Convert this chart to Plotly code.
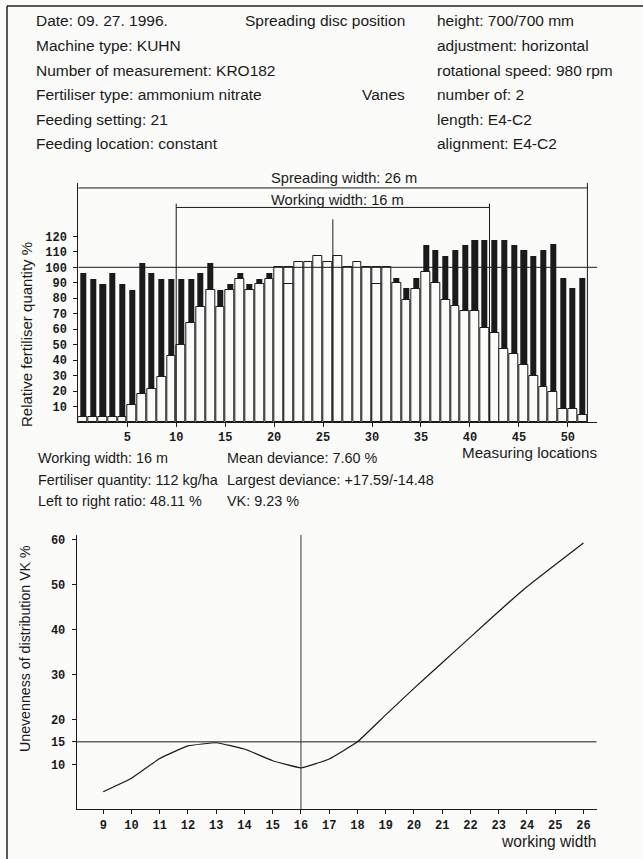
import plotly.graph_objects as go

W, H = 643, 859

# ---------------- data ----------------
locations = [1, 2, 3, 4, 5, 6, 7, 8, 9, 10, 11, 12, 13, 14, 15, 16, 17, 18, 19, 20,
             21, 22, 23, 24, 25, 26, 27, 28, 29, 30, 31, 32, 33, 34, 35, 36, 37, 38, 39, 40,
             41, 42, 43, 44, 45, 46, 47, 48, 49, 50, 51, 52]
total_pct = [96.1, 92.5, 89.2, 96.1, 89.0, 85.5, 103.0, 96.1, 92.7, 92.7,
             92.7, 92.7, 96.1, 103.0, 85.5, 89.2, 96.1, 89.2, 92.4, 96.1,
             100.0, 100.0, 103.2, 103.2, 107.3, 103.2, 107.3, 100.0, 103.2, 100.0,
             100.0, 100.0, 93.3, 86.4, 93.3, 114.4, 111.2, 107.5, 111.2, 114.4,
             117.6, 117.6, 117.6, 117.6, 114.4, 111.2, 107.5, 111.2, 114.8, 93.3,
             86.8, 93.3]
left_pct = [3.4, 3.4, 3.4, 3.4, 3.4, 10.8, 17.9, 21.3, 28.9, 42.9,
            50.0, 64.2, 74.6, 85.1, 74.6, 85.1, 92.5, 85.1, 89.2, 92.4,
            100.0, 89.2, 103.2, 103.2, 107.3, 103.2, 107.3, 100.0, 103.2, 100.0,
            89.2, 100.0, 89.6, 78.9, 85.8, 96.7, 89.6, 78.9, 75.2, 71.8,
            71.8, 61.0, 57.7, 47.0, 43.7, 36.8, 29.7, 22.4, 19.2, 8.4,
            8.4, 4.5]
hollow_locations = [22, 31]
bar_x_ticks = [5, 10, 15, 20, 25, 30, 35, 40, 45, 50]
bar_y_ticks = [10, 20, 30, 40, 50, 60, 70, 80, 90, 100, 110, 120]
reference_pct = 100
spreading_width_m = 26
working_width_m = 16
locations_per_m = 2

working_widths = [9, 10, 11, 12, 13, 14, 15, 16, 17, 18, 19, 20, 21, 22, 23, 24, 25, 26]
vk_pct = [3.9, 6.9, 11.3, 14.1, 14.8, 13.4, 10.8, 9.23, 11.2, 15.0,
          21.0, 26.9, 32.6, 38.3, 44.0, 49.5, 54.4, 59.2]
vk_y_ticks = [10, 15, 20, 30, 40, 50, 60]
vk_limit = 15
selected_width = 16

header_left = ["Date: 09. 27. 1996.", "Machine type: KUHN", "Number of measurement: KRO182",
               "Fertiliser type: ammonium nitrate", "Feeding setting: 21",
               "Feeding location: constant"]
header_right = ["height: 700/700 mm", "adjustment: horizontal", "rotational speed: 980 rpm",
                "number of: 2", "length: E4-C2", "alignment: E4-C2"]
stats_left = ["Working width: 16 m", "Fertiliser quantity: 112 kg/ha",
              "Left to right ratio: 48.11 %"]
stats_mid = ["Mean deviance: 7.60 %", "Largest deviance: +17.59/-14.48", "VK: 9.23 %"]

# ---------------- styles ----------------
TXT = "Liberation Sans, Arial, sans-serif"
MONO = "Liberation Mono, Courier New, monospace"
INK = "#1a1a1a"
PAPER = "#fbfbfa"

def px(x):
    return x / W

def py(y):
    return 1 - y / H

fig = go.Figure()

hollow = [loc in hollow_locations for loc in locations]
fig.add_trace(go.Bar(
    x=locations, y=total_pct,
    width=[0.9 if h else 0.62 for h in hollow],
    offset=[-0.95 if h else -0.81 for h in hollow],
    marker=dict(color=[PAPER if h else INK for h in hollow],
                line=dict(color=INK, width=[1 if h else 0 for h in hollow])),
    xaxis="x", yaxis="y", showlegend=False, hoverinfo="skip"))
fig.add_trace(go.Bar(
    x=locations, y=left_pct, width=0.9, offset=-0.95,
    marker=dict(color=PAPER, line=dict(color=INK, width=1)),
    xaxis="x", yaxis="y", showlegend=False, hoverinfo="skip"))

fig.add_trace(go.Scatter(
    x=working_widths, y=vk_pct, mode="lines",
    line=dict(color=INK, width=1.2, shape="spline", smoothing=0.3),
    xaxis="x2", yaxis="y2", showlegend=False, hoverinfo="skip"))

spread_end = spreading_width_m * locations_per_m
centre = spread_end / 2
ww0 = centre - working_width_m * locations_per_m / 2
ww1 = centre + working_width_m * locations_per_m / 2
y_top = 154.5
y_spread = 151.3
y_work = 138.7

line_style = dict(color=INK, width=1)
shapes = [
    dict(type="line", xref="x", yref="y", x0=0, x1=53, y0=reference_pct, y1=reference_pct, line=line_style),
    dict(type="line", xref="x", yref="y", x0=0, x1=spread_end, y0=y_spread, y1=y_spread, line=line_style),
    dict(type="line", xref="x", yref="y", x0=spread_end, x1=spread_end, y0=0, y1=y_top, line=line_style),
    dict(type="line", xref="x", yref="y", x0=ww0, x1=ww1, y0=y_work, y1=y_work, line=line_style),
    dict(type="line", xref="x", yref="y", x0=ww0, x1=ww0, y0=0, y1=y_work + 2.5, line=line_style),
    dict(type="line", xref="x", yref="y", x0=ww1, x1=ww1, y0=0, y1=y_work + 2.5, line=line_style),
    dict(type="line", xref="x", yref="y", x0=centre, x1=centre, y0=0, y1=131, line=line_style),
    dict(type="line", xref="x2", yref="y2", x0=8.06, x1=26.47, y0=vk_limit, y1=vk_limit, line=line_style),
    dict(type="line", xref="x2", yref="y2", x0=selected_width, x1=selected_width, y0=0, y1=61,
         line=dict(color="#333", width=1)),
    # page frame
    dict(type="line", xref="paper", yref="paper", x0=px(7), x1=1, y0=py(6), y1=py(6),
         line=dict(color="#222", width=1.5)),
    dict(type="line", xref="paper", yref="paper", x0=px(7), x1=px(7), y0=py(6), y1=0,
         line=dict(color="#222", width=1.5)),
]

ann = []
def text(x, y, s, size, anchor="left", angle=0, font=TXT):
    ann.append(dict(x=px(x), y=py(y), xref="paper", yref="paper", text=s, showarrow=False,
                    xanchor=anchor, yanchor="middle", textangle=angle,
                    font=dict(family=font, size=size, color=INK)))

header_rows = [21, 45.5, 70, 94.5, 119, 143]
for yy, s in zip(header_rows, header_left):
    text(34, yy, s, 15.5)
for yy, s in zip(header_rows, header_right):
    text(435, yy, s, 15.5)
text(243, header_rows[0], "Spreading disc position", 15.5)
text(360, header_rows[3], "Vanes", 15.5)

stats_rows = [458, 480, 501]
for yy, s in zip(stats_rows, stats_left):
    text(36, yy, s, 14.4)
for yy, s in zip(stats_rows, stats_mid):
    text(225, yy, s, 14.4)

text(344, 178, f"Spreading width: {spreading_width_m} m", 14.7, anchor="center")
text(337, 199.5, f"Working width: {working_width_m} m", 14.7, anchor="center")
text(529, 452, "Measuring locations", 15.2, anchor="center")
text(548, 841, "working width", 15.6, anchor="center")
text(27, 335, "Relative fertiliser quantity %", 15, anchor="center", angle=-90)
text(25, 649, "Unevenness of distribution VK %", 14.2, anchor="center", angle=-90)

fig.update_layout(annotations=ann)

axis_common = dict(showline=True, linecolor=INK, linewidth=1, ticks="outside", ticklen=4,
                   tickcolor=INK, showgrid=False, zeroline=False,
                   tickfont=dict(family=MONO, size=12, color=INK, weight="bold"))

fig.update_layout(
    width=W, height=H, margin=dict(l=0, r=0, t=0, b=0),
    paper_bgcolor=PAPER, plot_bgcolor="rgba(0,0,0,0)",
    barmode="overlay", bargap=0, shapes=shapes,
    xaxis=dict(domain=[px(78.3), px(597.2)], range=[0, 53], tickvals=bar_x_ticks,
               anchor="y", **axis_common),
    yaxis=dict(domain=[py(422), py(183)], range=[0, y_top], tickvals=bar_y_ticks,
               anchor="x", ticklabelstandoff=4, **axis_common),
    xaxis2=dict(domain=[px(76.7), px(596.7)], range=[8.06, 26.47], tickvals=working_widths,
                anchor="y2", **axis_common),
    yaxis2=dict(domain=[py(809.3), py(535)], range=[0, 61], tickvals=vk_y_ticks,
                anchor="x2", ticklabelstandoff=4, **axis_common),
)

fig.write_html("out.html")
